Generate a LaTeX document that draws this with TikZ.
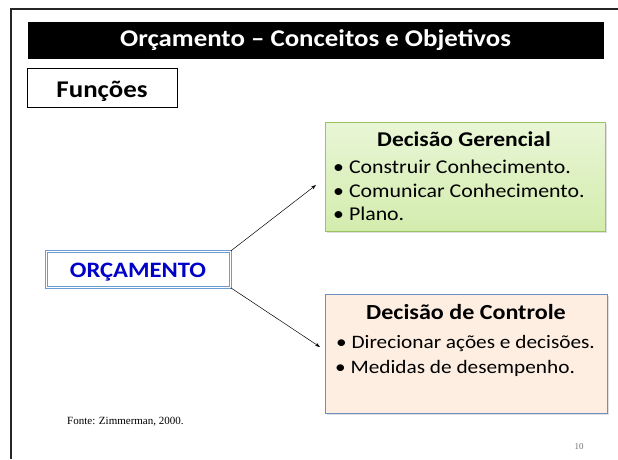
\documentclass[tikz,border=0pt]{standalone}
\usepackage{fontspec}
\setmainfont{Carlito}[FakeStretch=1.12]
\newfontfamily\timesfont{Liberation Serif}
\usetikzlibrary{arrows.meta,shadows}
\definecolor{gtop}{HTML}{E9F6D6}
\definecolor{gbot}{HTML}{D3ECAD}
\definecolor{gdraw}{HTML}{9BC35E}
\definecolor{ofill}{HTML}{FDEEE1}
\definecolor{odraw}{HTML}{6F8FC2}
\definecolor{bdraw}{HTML}{6F9BD3}
\definecolor{btext}{HTML}{0000C8}
\tikzset{
  box/.style={draw, anchor=north west, inner sep=0pt},
  ibox/.style={box, line width=1.3pt, drop shadow={opacity=0.25, shadow xshift=1.2pt, shadow yshift=-1.2pt}},
  lbl/.style={anchor=base west, inner sep=0pt, font=\fontsize{19.5}{21}\selectfont},
  hdr/.style={anchor=base, inner sep=0pt, font=\fontsize{21}{23}\selectfont\bfseries},
  conn/.style={line width=0.5pt, -{Stealth[length=5pt,width=3.5pt]}}
}
\begin{document}
\begin{tikzpicture}[x=1pt,y=-1pt]
\useasboundingbox (0,0) rectangle (618,459);
\fill[white] (0,0) rectangle (618,459);
\draw[line width=2.5pt, black!85] (11,459) -- (11,9) -- (618,9);
% title bar
\node[box, fill=black, minimum width=575pt, minimum height=36pt] (bar) at (28,22) {};
\node[text=white, font=\fontsize{24}{26}\selectfont\bfseries] (title) at (bar.center) {Orçamento – Conceitos e Objetivos};
% Funcoes
\node[box, line width=0.8pt, minimum width=150pt, minimum height=39pt] (fbox) at (27,68) {};
\node[anchor=base, inner sep=0pt, font=\fontsize{24}{26}\selectfont\bfseries] (ftext) at (102,97) {Funções};
% green box
\node[ibox, draw=gdraw, top color=gtop, bottom color=gbot, minimum width=280pt, minimum height=109pt] (gbox) at (325,122) {};
\node[hdr] (gtitle) at (464,146) {Decisão Gerencial};
\node[lbl] (g1) at (333,173) {• Construir Conhecimento.};
\node[lbl] (g2) at (333,197) {• Comunicar Conhecimento.};
\node[lbl] (g3) at (333,220) {• Plano.};
% orange box
\node[ibox, draw=odraw, fill=ofill, minimum width=282pt, minimum height=119pt] (obox) at (325,294) {};
\node[hdr, font=\fontsize{21.5}{23}\selectfont\bfseries] (otitle) at (466,319) {Decisão de Controle};
\node[lbl, font=\fontsize{19}{21}\selectfont] (o1) at (336,348) {\textbullet\ Direcionar ações e decisões.};
\node[lbl, font=\fontsize{19}{21}\selectfont] (o2) at (335,373) {• Medidas de desempenho.};
% ORCAMENTO
\node[box, draw=bdraw, double=white, double distance=1.2pt, line width=0.7pt, minimum width=184pt, minimum height=36pt] (orc) at (46,251) {};
\node[anchor=base, inner sep=0pt, text=btext, font=\fontsize{22}{24}\selectfont\bfseries] (otext) at (138,277) {ORÇAMENTO};
% arrows
\coordinate (t1) at (316,185);
\coordinate (t2) at (320,347);
\draw[conn] (orc.north east) -- (t1);
\draw[conn] (orc.south east) -- (t2);
% footer
\node[anchor=base west, inner sep=0pt, font=\timesfont\fontsize{11}{13}\selectfont] (src) at (67,424) {Fonte: Zimmerman, 2000.};
\node[anchor=base, inner sep=0pt, text=black!55, font=\timesfont\fontsize{9}{11}\selectfont] (pg) at (579,449) {10};
\end{tikzpicture}
\end{document}
